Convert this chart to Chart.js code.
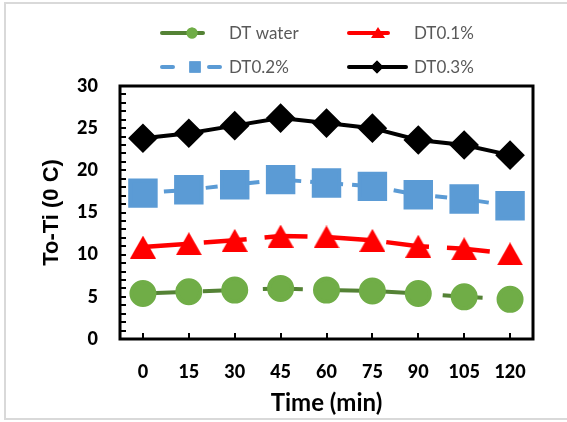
<!DOCTYPE html>
<html>
<head>
<meta charset="utf-8">
<script src="https://cdn.jsdelivr.net/npm/chart.js@4.4.1/dist/chart.umd.min.js"></script>
<style>
  html, body { margin: 0; padding: 0; background: #fff; overflow: hidden; }
  canvas { display: block; }
</style>
</head>
<body>
<canvas id="myChart" width="567" height="422"></canvas>
<script>
// 데이터
var times = ['0', '15', '30', '45', '60', '75', '90', '105', '120'];
var seriesNames = ['DT water', 'DT0.1%', 'DT0.2%', 'DT0.3%'];
var dtWater = [5.4, 5.6, 5.8, 6.0, 5.8, 5.7, 5.4, 5.0, 4.7];
var dt01 = [10.9, 11.3, 11.7, 12.2, 12.1, 11.7, 11.0, 10.7, 10.1];
var dt02 = [17.3, 17.7, 18.3, 18.9, 18.5, 18.1, 17.1, 16.6, 15.8];
var dt03 = [23.8, 24.4, 25.3, 26.2, 25.6, 25.0, 23.6, 23.0, 21.8];
var yMin = 0, yMax = 30, yStep = 5;

// 엑셀처럼 박스 중앙에 놓이는 삼각형 마커
function makeTriangle(w, h, color) {
    var c = document.createElement('canvas');
    c.width = w; c.height = h;
    var g = c.getContext('2d');
    g.fillStyle = color;
    g.beginPath();
    g.moveTo(0, h); g.lineTo(w / 2, 0); g.lineTo(w, h);
    g.closePath(); g.fill();
    return c;
}
var triBig = makeTriangle(26, 23, '#ff0000');

// 바깥 회색 테두리 (왼쪽, 위, 아래)
var outerFrame = {
    id: 'outerFrame',
    beforeDraw: function (chart) {
        var ctx = chart.ctx;
        ctx.save();
        ctx.fillStyle = '#fff';
        ctx.fillRect(0, 0, chart.width, chart.height);
        ctx.strokeStyle = '#d9d9d9';
        ctx.lineWidth = 2;
        ctx.beginPath();
        ctx.moveTo(chart.width, 3); ctx.lineTo(5, 3); ctx.lineTo(5, 419); ctx.lineTo(chart.width, 419);
        ctx.stroke();
        ctx.restore();
    }
};

// 테두리 상자와 안쪽 눈금
var boxPlugin = {
    id: 'boxPlugin',
    beforeDatasetsDraw: function (chart) {
        var a = chart.chartArea, ctx = chart.ctx;
        var ys = chart.scales.y, xs = chart.scales.x;
        ctx.save();
        ctx.strokeStyle = '#000';
        ctx.lineWidth = 2;
        for (var v = yMin; v <= yMax; v++) {
            var py = Math.round(ys.getPixelForValue(v));
            ctx.beginPath(); ctx.moveTo(a.left, py); ctx.lineTo(a.left + 6, py); ctx.stroke();
        }
        for (var i = 0; i < times.length; i++) {
            var px = Math.round(xs.getPixelForValue(i));
            ctx.beginPath(); ctx.moveTo(px, a.bottom); ctx.lineTo(px, a.bottom - 6); ctx.stroke();
        }
        ctx.lineWidth = 3;
        ctx.strokeRect(a.left, a.top, a.right - a.left, a.bottom - a.top);
        ctx.restore();
    }
};

// 범례 (2열 2행)
var legendPlugin = {
    id: 'legendPlugin',
    afterDraw: function (chart) {
        var ctx = chart.ctx;
        var items = [
            { x0: 160, x1: 205, mx: 192, tx: 229, y: 33, ds: 0 },
            { x0: 347, x1: 390, mx: 378, tx: 414, y: 33, ds: 1 },
            { x0: 160, x1: 222, mx: 195, tx: 229, y: 67, ds: 2 },
            { x0: 347, x1: 408, mx: 377, tx: 414, y: 67, ds: 3 }
        ];
        items.forEach(function (it) {
            var d = chart.data.datasets[it.ds];
            ctx.save();
            ctx.strokeStyle = d.borderColor;
            ctx.lineWidth = 4;
            ctx.lineCap = 'round';
            if (it.ds === 2) {
                ctx.beginPath();
                ctx.moveTo(it.x0 + 2, it.y); ctx.lineTo(it.x0 + 13, it.y);
                ctx.moveTo(it.x1 - 13, it.y); ctx.lineTo(it.x1 - 2, it.y);
                ctx.stroke();
            } else {
                ctx.beginPath(); ctx.moveTo(it.x0 + 2, it.y); ctx.lineTo(it.x1 - 2, it.y); ctx.stroke();
            }
            ctx.fillStyle = d.pointBackgroundColor;
            if (it.ds === 1) {
                ctx.beginPath();
                ctx.moveTo(it.mx - 7, it.y + 5); ctx.lineTo(it.mx, it.y - 6); ctx.lineTo(it.mx + 7, it.y + 5);
                ctx.closePath(); ctx.fill();
            } else {
                var style = it.ds === 0 ? 'circle' : (it.ds === 2 ? 'rect' : 'rectRot');
                var r = it.ds === 0 ? 5.5 : (it.ds === 2 ? 8 : 6.5);
                Chart.helpers.drawPoint(ctx, { pointStyle: style, radius: r, borderWidth: 0 }, it.mx, it.y);
                ctx.fill();
            }
            ctx.fillStyle = '#595959';
            ctx.font = '17px Lato';
            ctx.textBaseline = 'middle';
            ctx.fillText(seriesNames[it.ds], it.tx, it.y + 1);
            ctx.restore();
        });
    }
};

var chartArea = document.getElementById('myChart').getContext('2d');
var myChart = new Chart(chartArea, {
    type: 'line',
    data: {
        labels: times,
        datasets: [{
            label: seriesNames[0],
            data: dtWater,
            borderColor: '#548235',
            backgroundColor: '#70ad47',
            pointBackgroundColor: '#70ad47',
            pointBorderColor: '#70ad47',
            pointStyle: 'circle',
            pointRadius: 11.5,
            borderWidth: 4,
            borderDash: [40, 20]
        }, {
            label: seriesNames[1],
            data: dt01,
            borderColor: '#ff0000',
            backgroundColor: '#ff0000',
            pointBackgroundColor: '#ff0000',
            pointBorderColor: '#ff0000',
            pointStyle: triBig,
            pointRadius: 13,
            borderWidth: 4.5,
            borderDash: [43, 18]
        }, {
            label: seriesNames[2],
            data: dt02,
            borderColor: '#5b9bd5',
            backgroundColor: '#5b9bd5',
            pointBackgroundColor: '#5b9bd5',
            pointBorderColor: '#5b9bd5',
            pointStyle: 'rect',
            pointRadius: 18,
            borderWidth: 4,
            borderDash: [12, 9]
        }, {
            label: seriesNames[3],
            data: dt03,
            borderColor: '#000000',
            backgroundColor: '#000000',
            pointBackgroundColor: '#000000',
            pointBorderColor: '#000000',
            pointStyle: 'rectRot',
            pointRadius: 12,
            borderWidth: 4
        }]
    },
    options: {
        responsive: false,
        animation: false,
        layout: { padding: { top: 86, right: 34, left: 0, bottom: 0 } },
        plugins: {
            legend: { display: false },
            tooltip: { enabled: false }
        },
        elements: { point: { borderWidth: 0 }, line: { tension: 0 } },
        scales: {
            x: {
                offset: true,
                grid: { display: false, drawTicks: false },
                border: { display: false },
                ticks: { color: '#000', padding: 22, maxRotation: 0, font: { family: 'Lato', weight: '900', size: 18 } },
                title: { display: true, text: 'Time (min)', color: '#000', padding: { top: 0, bottom: 4 },
                         font: { family: 'Lato', weight: 'bold', size: 24 } },
                afterFit: function (s) { s.height = 83; }
            },
            y: {
                min: yMin,
                max: yMax,
                grid: { display: false, drawTicks: false },
                border: { display: false },
                ticks: { stepSize: yStep, color: '#000', padding: 22, font: { family: 'Lato', weight: '900', size: 18 } },
                title: { display: true, text: 'To-Ti (0 C)', color: '#000', padding: { top: 39, bottom: 0 },
                         font: { family: 'Liberation Sans', weight: 'bold', size: 22 } },
                afterFit: function (s) { s.width = 120; }
            }
        }
    },
    plugins: [outerFrame, boxPlugin, legendPlugin]
});
</script>
</body>
</html>
